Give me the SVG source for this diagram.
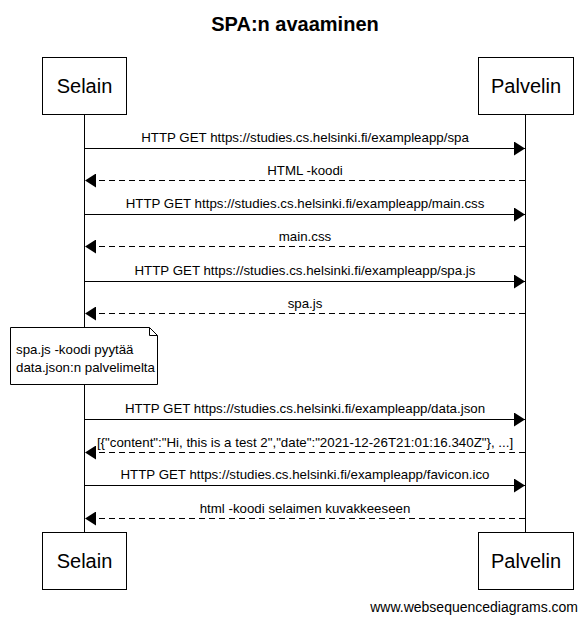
<svg xmlns="http://www.w3.org/2000/svg" width="588" height="624" viewBox="0 0 588 624">
<defs>
<marker id="ah" markerWidth="11" markerHeight="14" refX="11" refY="7" orient="auto" markerUnits="userSpaceOnUse">
<path d="M0,0 L11,7 L0,14 Z" fill="#000"/>
</marker>
<style>
text{font-family:"Liberation Sans",Arial,sans-serif;fill:#000}
.title{font-size:20px;font-weight:bold;text-anchor:middle}
.actor rect{fill:#fff;stroke:#000;stroke-width:1}
.actor text{font-size:20px;text-anchor:middle}
.msg{font-size:13.3px;text-anchor:middle}
.life{stroke:#000;stroke-width:1}
.req{stroke:#000;stroke-width:1;marker-end:url(#ah)}
.resp{stroke:#000;stroke-width:1;stroke-dasharray:6,4;marker-end:url(#ah)}
.note path{fill:#fff;stroke:#000;stroke-width:1}
.note text{font-size:13.3px}
.wm{font-size:14px;text-anchor:end}
</style>
</defs>
<rect width="588" height="624" fill="#fff"/>
<text class="title" x="295" y="31">SPA:n avaaminen</text>
<g id="lifelines">
<line class="life" x1="84.5" y1="114" x2="84.5" y2="532"/>
<line class="life" x1="525.5" y1="114" x2="525.5" y2="532"/>
</g>
<g id="selain-top" class="actor"><rect x="42.5" y="57.5" width="84" height="57"/><text x="84.5" y="93">Selain</text></g>
<g id="palvelin-top" class="actor"><rect x="478.5" y="57.5" width="95" height="57"/><text x="526" y="93">Palvelin</text></g>
<g id="selain-bottom" class="actor"><rect x="42.5" y="532.5" width="84" height="57"/><text x="84.5" y="568">Selain</text></g>
<g id="palvelin-bottom" class="actor"><rect x="478.5" y="532.5" width="95" height="57"/><text x="526" y="568">Palvelin</text></g>
<g id="note" class="note">
<path d="M10.5,327.5 H149.5 L157.5,335.5 V384.5 H10.5 Z M149.5,327.5 V335.5 H157.5"/>
<text x="16" y="354">spa.js -koodi pyytää</text>
<text x="16" y="372">data.json:n palvelimelta</text>
</g>
<g id="connectors">
<line class="req" x1="84.5" y1="148.5" x2="525" y2="148.5"/>
<text class="msg" x="305" y="142">HTTP GET https://studies.cs.helsinki.fi/exampleapp/spa</text>
<line class="resp" x1="525" y1="180.5" x2="85" y2="180.5"/>
<text class="msg" x="305" y="175">HTML -koodi</text>
<line class="req" x1="84.5" y1="214.5" x2="525" y2="214.5"/>
<text class="msg" x="305" y="208">HTTP GET https://studies.cs.helsinki.fi/exampleapp/main.css</text>
<line class="resp" x1="525" y1="246.5" x2="85" y2="246.5"/>
<text class="msg" x="305" y="241">main.css</text>
<line class="req" x1="84.5" y1="281.5" x2="525" y2="281.5"/>
<text class="msg" x="305" y="275">HTTP GET https://studies.cs.helsinki.fi/exampleapp/spa.js</text>
<line class="resp" x1="525" y1="313.5" x2="85" y2="313.5"/>
<text class="msg" x="305" y="308">spa.js</text>
<line class="req" x1="84.5" y1="419.5" x2="525" y2="419.5"/>
<text class="msg" x="305" y="413">HTTP GET https://studies.cs.helsinki.fi/exampleapp/data.json</text>
<line class="resp" x1="525" y1="452.5" x2="85" y2="452.5"/>
<text class="msg" x="305" y="447">[{"content":"Hi, this is a test 2","date":"2021-12-26T21:01:16.340Z"}, ...]</text>
<line class="req" x1="84.5" y1="485.5" x2="525" y2="485.5"/>
<text class="msg" x="305" y="479">HTTP GET https://studies.cs.helsinki.fi/exampleapp/favicon.ico</text>
<line class="resp" x1="525" y1="518.5" x2="85" y2="518.5"/>
<text class="msg" x="305" y="513">html -koodi selaimen kuvakkeeseen</text>
</g>
<text class="wm" x="578" y="612">www.websequencediagrams.com</text>
</svg>
